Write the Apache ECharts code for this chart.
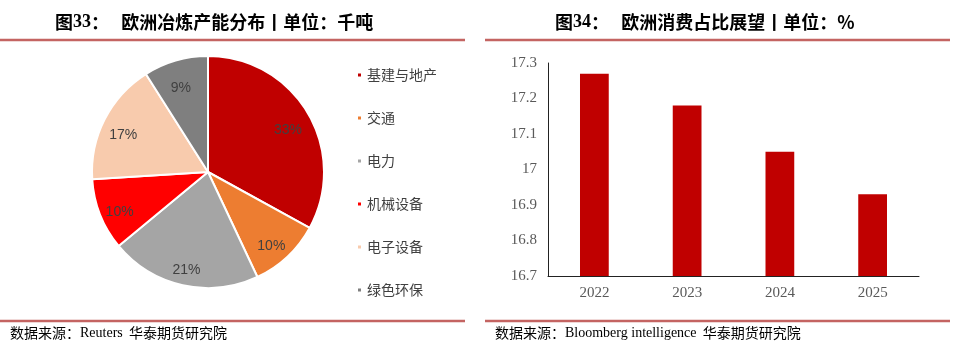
<!DOCTYPE html>
<html><head><meta charset="utf-8">
<script src="https://cdn.jsdelivr.net/npm/echarts@6/dist/echarts.min.js"></script>
<style>html,body{margin:0;padding:0;background:#fff}#c{width:958px;height:359px}</style>
</head><body><div id="c"></div>
<script>
var pieNames = ['基建与地产','交通','电力','机械设备','电子设备','绿色环保'];
var pieValues = [33, 10, 21, 10, 17, 9];
var pieColors = ['#C00000','#ED7D31','#A5A5A5','#FF0000','#F8CBAD','#7F7F7F'];
var barCategories = ['2022','2023','2024','2025'];
var barValues = [17.27, 17.18, 17.05, 16.93];

var chart = echarts.init(document.getElementById('c'), null, {renderer:'canvas'});
var pieData = pieNames.map(function(n,i){return {name:n, value:pieValues[i], itemStyle:{color:pieColors[i]}};});
var labelData = pieNames.map(function(n,i){return {name:n, value:pieValues[i]};});
var cjk = '"Noto Sans CJK SC", sans-serif';
var serif = '"Liberation Serif", "Noto Sans CJK SC", serif';
function titleRich(){return {
  a:{fontFamily:cjk,fontSize:18,fontWeight:'bold',color:'#1a1a1a'},
  b:{fontFamily:'"Liberation Serif", serif',fontSize:18,fontWeight:'bold',color:'#1F2D4D'}
};}
chart.setOption({
  animation:false,
  legend:{
    orient:'vertical', left:351, top:63, itemWidth:5, itemHeight:5, icon:'rect', itemGap:29,
    data:pieNames,
    textStyle:{fontFamily:cjk,fontSize:14,color:'#404040',lineHeight:14}
  },
  grid:{left:548, right:39, top:63, bottom:83},
  xAxis:{type:'category', data:barCategories,
    axisLine:{lineStyle:{color:'#222',width:1}}, axisTick:{show:false},
    axisLabel:{fontFamily:serif,fontSize:15,color:'#595959',margin:10}},
  yAxis:{type:'value', min:16.7, max:17.3, interval:0.1,
    axisLine:{show:true,lineStyle:{color:'#222',width:1}}, axisTick:{show:false}, splitLine:{show:false},
    axisLabel:{fontFamily:serif,fontSize:15,color:'#595959',margin:11,formatter:function(v){return String(+v.toFixed(1));}}},
  series:[
    {type:'pie', center:[208,172], radius:[0,116], startAngle:90, clockwise:true,
     data:pieData, label:{show:false}, labelLine:{show:false},
     itemStyle:{borderColor:'#fff',borderWidth:2}, silent:true},
    {type:'pie', center:[208,172], radius:[66,116], startAngle:90, clockwise:true,
     data:labelData, legendHoverLink:false, silent:true,
     itemStyle:{color:'rgba(0,0,0,0)',borderWidth:0},
     label:{show:true,position:'inside',formatter:'{d}%',offset:[-1,6],fontFamily:'"Liberation Sans", sans-serif',fontSize:14,color:'#404040'},
     labelLine:{show:false}},
    {type:'bar', data:barValues, barWidth:'31%', itemStyle:{color:'#C00000'}}
  ],
  graphic:[
    {type:'text', left:55, top:13, style:{text:'{a|图}{b|33}{a|：   欧洲冶炼产能分布丨单位：千吨}', rich:titleRich()}},
    {type:'text', left:555, top:13, style:{text:'{a|图}{b|34}{a|：   欧洲消费占比展望丨单位：%}', rich:titleRich()}},
    {type:'line', shape:{x1:0,y1:40,x2:465,y2:40}, style:{stroke:'#C46462',lineWidth:2.5}},
    {type:'line', shape:{x1:485,y1:40,x2:950,y2:40}, style:{stroke:'#C46462',lineWidth:2.5}},
    {type:'line', shape:{x1:0,y1:321,x2:465,y2:321}, style:{stroke:'#C46462',lineWidth:2.5}},
    {type:'line', shape:{x1:485,y1:321,x2:950,y2:321}, style:{stroke:'#C46462',lineWidth:2.5}},
    {type:'text', left:10, top:326, style:{text:'{c|数据来源：}{d|Reuters}{c|  华泰期货研究院}', rich:{
      c:{fontFamily:cjk,fontSize:14,color:'#222'}, d:{fontFamily:'"Liberation Serif", serif',fontSize:14,color:'#111'}}}},
    {type:'text', left:495, top:326, style:{text:'{c|数据来源：}{d|Bloomberg intelligence}{c|  华泰期货研究院}', rich:{
      c:{fontFamily:cjk,fontSize:14,color:'#222'}, d:{fontFamily:'"Liberation Serif", serif',fontSize:14,color:'#111'}}}}
  ]
});
</script></body></html>
